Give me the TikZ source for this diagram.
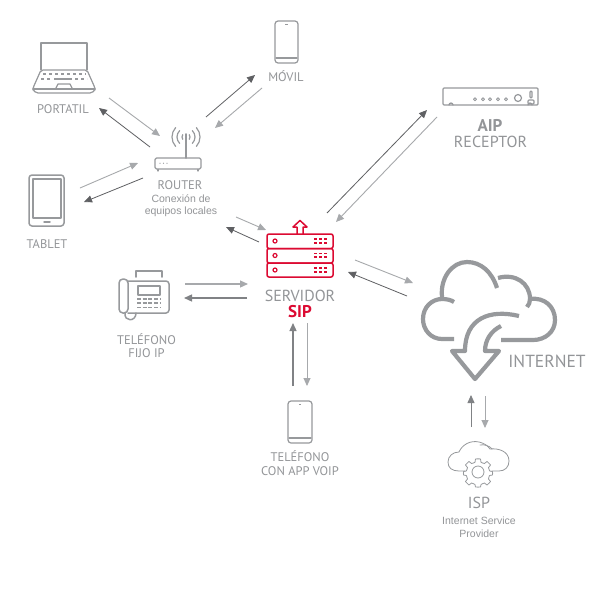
\documentclass[tikz,border=0pt]{standalone}
\usepackage{fontspec}
\setmainfont{PT Sans}
\newfontfamily\arialish{Liberation Sans}
\usetikzlibrary{arrows.meta}
\definecolor{lg}{HTML}{A7A9AC}
\definecolor{dg}{HTML}{5F6063}
\definecolor{mg}{HTML}{808285}
\definecolor{ic}{HTML}{97999C}
\definecolor{tx}{HTML}{939598}
\definecolor{rd}{HTML}{DC0A32}
\tikzset{
 lab/.style={text=tx,inner sep=0pt,font=\fontsize{12.5}{13}\selectfont},
 big/.style={text=tx,inner sep=0pt,font=\fontsize{16}{17}\selectfont},
 small/.style={text=tx,inner sep=0pt,font=\arialish\fontsize{10.5}{11}\selectfont},
 lite/.style={draw=lg,line width=.9pt,-{Triangle[length=8pt,width=7pt]}},
 dark/.style={draw=dg,line width=.8pt,-{Triangle[length=8pt,width=7pt]}},
 icon/.style={draw=ic,line width=1.2pt,line join=round,line cap=round},
 thick icon/.style={draw=ic,line width=4.2pt,line join=round},
 red icon/.style={draw=rd,line width=1.5pt,line join=round},
}
\begin{document}
\begin{tikzpicture}[x=1pt,y=-1pt]
\useasboundingbox (0,0) rectangle (608,608);
\fill[white] (0,0) rectangle (608,608);
% connector ends
\foreach \n/\x/\y in {a1/109/98,a2/160/136,b1/150/147,b2/99/108,c1/80/188,c2/138/163,d1/143/178,d2/84/202,
 e1/206/117,e2/255/75,f1/262/88,f2/215/128,g1/236/217,g2/266/230,h1/259/242,h2/226/227,
 i1/327/213,i2/427/110,j1/437/117,j2/336/222,k1/355/260,k2/413/283,l1/407/296,l2/348/272,
 m1/185/284,m2/248/284,n1/247/298,n2/184/298,o1/293/386,o2/293/323,p1/307/323,p2/307/386,
 q1/471/427,q2/471/395,r1/485/396,r2/485/428}{\coordinate (\n) at (\x,\y);}
\draw[lite] (a1)--(a2);
\draw[dark] (b1)--(b2);
\draw[lite] (c1)--(c2);
\draw[dark] (d1)--(d2);
\draw[dark] (e1)--(e2);
\draw[lite] (f1)--(f2);
\draw[lite] (g1)--(g2);
\draw[dark] (h1)--(h2);
\draw[dark] (i1)--(i2);
\draw[lite] (j1)--(j2);
\draw[lite] (k1)--(k2);
\draw[dark] (l1)--(l2);
\draw[lite,line width=1.2pt] (m1)--(m2);
\draw[dark,draw=mg,line width=1.3pt] (n1)--(n2);
\draw[dark,draw=mg,line width=1.3pt] (o1)--(o2);
\draw[lite] (p1)--(p2);
\draw[dark,draw=mg] (q1)--(q2);
\draw[lite] (r1)--(r2);
% laptop
\draw[icon] (41,70)--(41,43)--(87,43)--(87,70);
\draw[icon,rounded corners=2pt] (41,70)--(87,70)--(95,88)--(95,90)--(92,93)--(36,93)--(33,90)--(33,88)--cycle;
\draw[icon] (33,89)--(95,89);
\draw[icon] (56,88)--(58,84)--(70,84)--(72,88);
\draw[icon,dash pattern=on 3pt off 3pt,line cap=butt] (43,74)--(86,74);
\draw[icon,dash pattern=on 3pt off 3pt,line cap=butt] (41,79)--(52,79);
\draw[icon,line cap=butt] (54,79)--(72,79);
\draw[icon,dash pattern=on 3pt off 3pt,line cap=butt] (75,79)--(87,79);
% phone top
\draw[icon,rounded corners=3pt] (275,21) rectangle (298,63);
\draw[icon] (276,58)--(297,58);
\fill[ic] (285.3,23.6) rectangle (287.7,25);
% router
\draw[icon,rounded corners=1.5pt] (155,158) rectangle (201,169);
\draw[icon] (158,169.5)--(158,171) (198,169.5)--(198,171);
\draw[icon,line width=1.6pt] (186,134)--(186,158);
\foreach \q in {160,163.5,167}{\fill[ic] (\q,163.2) circle (0.7);}
\foreach \r/\a in {4/35,9/45,14/42}{
 \draw[icon] (186,137) ++(180-\a:\r) arc[start angle=180-\a,end angle=180+\a,radius=\r];
 \draw[icon] (186,137) ++(-\a:\r) arc[start angle=-\a,end angle=\a,radius=\r];
}
% tablet
\draw[icon,line width=1.5pt,rounded corners=3pt] (29,175) rectangle (64,226);
\draw[icon] (33,179) rectangle (61,218);
\draw[icon,line width=1.5pt] (44,222)--(50,222);
% server
\draw[red icon,rounded corners=2pt] (267,234) rectangle (333,248.5);
\draw[red icon,rounded corners=2pt] (267,248.5) rectangle (333,263);
\draw[red icon,rounded corners=2pt] (267,263) rectangle (333,277);
\foreach \y in {241,255.5,270}{
 \draw[rd,line width=1.2pt] (275,\y) circle (2);
 \foreach \x in {314,319,324}{
  \fill[rd] (\x,\y-3) rectangle +(3,1.8);
  \fill[rd] (\x,\y+0.8) rectangle +(3,1.8);
 }
}
\draw[red icon] (297,234)--(297,227)--(293,227)--(300,220.5)--(307,227)--(303,227)--(303,234);
% desk phone
\draw[icon,line width=1.5pt,rounded corners=3pt] (128,281) -- (169,281)--(169,313)--(128,313);
\draw[icon,line width=1.5pt,rounded corners=4pt] (119,279) rectangle (128,313);
\draw[icon,line width=1.5pt] (136,313) .. controls (136,322) and (124,322) .. (125,313);
\draw[icon,line width=1.5pt] (136,277)--(136,271)--(162,271)--(162,277);
\draw[icon] (138,286) rectangle (160,295);
\foreach \y in {299,303,307.5}{\draw[icon,line width=1.5pt,dash pattern=on 4pt off 1.7pt,line cap=butt] (137,\y)--(161,\y);}
% receptor
\draw[icon,rounded corners=1pt] (443,88) rectangle (538,105);
\draw[icon] (449,105) arc[start angle=180,end angle=360,radius=2];
\draw[icon] (528,105) arc[start angle=180,end angle=360,radius=2];
\foreach \x in {475,483,490,498,506}{\draw[icon,line width=.9pt] (\x,99.3) circle (1.5);}
\draw[icon] (518,98) circle (3.5);
\draw[icon,rounded corners=1pt] (530,91) rectangle (532,98);
\draw[icon,rounded corners=1pt] (528,100) rectangle (534,104);
% cloud
\draw[thick icon] (454,339)--(442,339) .. controls (431,339) and (423,330) .. (423,319) .. controls (423,307) and (432,299) .. (442,299) .. controls (447,299) and (451,300) .. (454,302);
\draw[thick icon] (442,297) .. controls (440,278) and (452,262) .. (467,262) .. controls (481,262) and (492,272) .. (497,288);
\draw[thick icon] (498,278) .. controls (515,273) and (530,283) .. (530,299) .. controls (530,302) and (529,305) .. (527,307);
\draw[thick icon] (530,299) .. controls (545,297) and (555,307) .. (555,320) .. controls (555,332) and (545,340) .. (533,340) -- (501,340);
\draw[thick icon] (519,316) .. controls (490,309) and (465,318) .. (465,351) -- (452,351) -- (475,379) -- (499,351) -- (485,351) .. controls (485,340) and (491,331) .. (501,326);
% phone bottom
\draw[icon,rounded corners=3pt] (288,401) rectangle (312,443);
\draw[icon] (289,438)--(311,438);
\fill[ic] (298.8,403.6) rectangle (301.2,405);
% isp
\draw[icon,line width=.8pt] (465,471)--(459,471) .. controls (452,471) and (448,468) .. (448,462) .. controls (448,456) and (453,452) .. (459,452) .. controls (462,445) and (470,440) .. (479,442) .. controls (484,443) and (488,446) .. (490,449) .. controls (498,448) and (509,451) .. (509,461) .. controls (509,467) and (505,471) .. (499,471)--(492,471);
\draw[icon,line width=.8pt] (480,445) .. controls (484,444) and (490,446) .. (492,449);
\draw[icon,line width=.8pt] (478,472) circle (6);
\draw[icon,line width=.8pt] plot[smooth cycle,tension=0.2] coordinates {
 (475.5,459) (480.5,459) (481,462.3) (484.5,463.5) (487,461.5) (490.5,465) (488.5,467.5) (489.7,471) (492.5,471.5) (492.5,475) (489.5,475.5) (488.5,479) (490.5,481.5) (487,485) (484.5,483) (481,484.5) (480.5,487) (475.5,487) (475,484.5) (471.5,483) (469,485) (465.5,481.5) (467.5,479) (466.3,475.5) (463.5,475) (463.5,471.5) (466.3,471) (467.5,467.5) (465.5,465) (469,461.5) (471.5,463.5) (475,462.3)};
% labels
\node[lab] (tportatil) at (63,109) {PORTATIL};
\node[lab] (tmovil) at (286,76) {MÓVIL};
\node[lab] (trouter) at (180,185) {ROUTER};
\node[small] (tcon) at (181,199) {Conexión de};
\node[small] (tequ) at (181,212) {equipos locales};
\node[lab] (ttablet) at (47,244) {TABLET};
\node[big,font=\bfseries\fontsize{17}{18}\selectfont] (taip) at (490,125) {AIP};
\node[big] (trec) at (490.5,142) {RECEPTOR};
\node[big] (tserv) at (300,296) {SERVIDOR};
\node[text=rd,inner sep=0pt,font=\bfseries\fontsize{17}{18}\selectfont] (tsip) at (300,312) {SIP};
\node[lab] (tfijo1) at (146.5,339) {TELÉFONO};
\node[lab] (tfijo2) at (146.5,353) {FIJO IP};
\node[big,font=\fontsize{17.5}{18}\selectfont] (tint) at (547,361) {INTERNET};
\node[lab] (tapp1) at (300,456) {TELÉFONO};
\node[lab] (tapp2) at (300,471) {CON APP VOIP};
\node[big] (tisp) at (479,503) {ISP};
\node[small] (tis1) at (479,521) {Internet Service};
\node[small] (tis2) at (479,534) {Provider};
\end{tikzpicture}
\end{document}
